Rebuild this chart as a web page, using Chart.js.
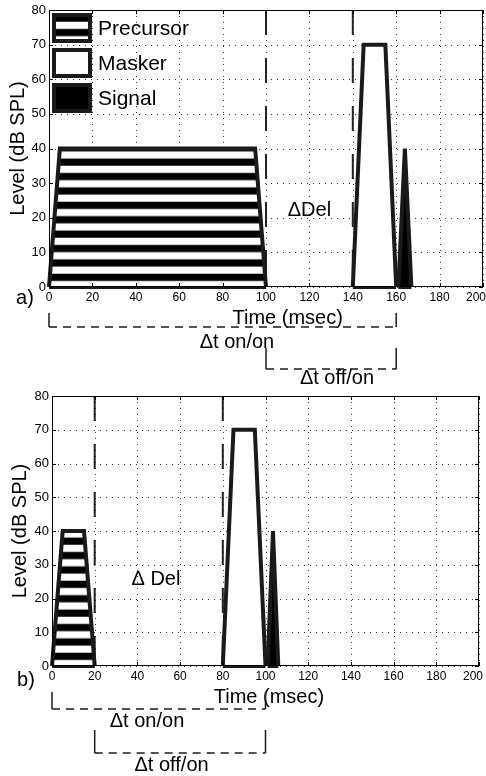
<!DOCTYPE html>
<html>
<head>
<meta charset="utf-8">
<script src="https://cdn.jsdelivr.net/npm/chart.js@4.4.0/dist/chart.umd.min.js"></script>
<style>
    body { margin: 0; background: #fff; }
    canvas { position: absolute; left: 0; }
    #chartA { top: 0; }
    #chartB { top: 390px; }
</style>
</head>
<body>
<canvas id="chartA" width="486" height="390"></canvas>
<canvas id="chartB" width="486" height="386"></canvas>
<script>
// axis ticks
const xTicks = [0, 20, 40, 60, 80, 100, 120, 140, 160, 180, 200];
const yTicks = [0, 10, 20, 30, 40, 50, 60, 70, 80];
const seriesNames = ['Precursor', 'Masker', 'Signal'];
const xTitle = 'Time (msec)';
const yTitle = 'Level (dB SPL)';
const bracketNames = ['\u0394t on/on', '\u0394t off/on'];

// panel a) time in ms, level in dB SPL
const precursorA_t = [0, 5, 95, 100];
const precursorA_db = [0, 40, 40, 0];
const maskerA_t = [140, 145, 155, 160];
const maskerA_db = [0, 70, 70, 0];
const signalA_t = [161, 164, 167];
const signalA_db = [0, 40, 0];
const markersA = [100, 140];
const bracketsA = [[0, 160], [100, 160]];

// panel b)
const precursorB_t = [0, 5, 15, 20];
const precursorB_db = [0, 40, 40, 0];
const maskerB_t = [80, 85, 95, 100];
const maskerB_db = [0, 70, 70, 0];
const signalB_t = [101, 103.5, 106];
const signalB_db = [0, 40, 0];
const markersB = [20, 80];
const bracketsB = [[0, 100], [20, 100]];

const INK = '#1a1a1a';
const FONT = '"Liberation Sans", Arial, Helvetica, sans-serif';
const XTICK_SIZE = 12;

const patterns = new Map();
function stripes(chart) {
    const a = chart.chartArea;
    if (!a) return '#fff';
    if (patterns.has(chart.id)) return patterns.get(chart.id);
    const tile = document.createElement('canvas');
    tile.width = 8;
    tile.height = 144;
    const t = tile.getContext('2d');
    t.fillStyle = '#fff';
    t.fillRect(0, 0, 8, 144);
    t.fillStyle = '#000';
    for (let k = 0; k < 10; k++) t.fillRect(0, k * 14.4, 8, 7.2);
    const p = chart.ctx.createPattern(tile, 'repeat');
    p.setTransform(new DOMMatrix([1, 0, 0, 1, 0, a.bottom - 13.3]));
    patterns.set(chart.id, p);
    return p;
}

function toPoints(t, db) {
    return t.map((v, i) => ({x: v, y: db[i]}));
}

function shape(t, db, fill) {
    return {
        data: toPoints(t, db),
        fill: 'origin',
        backgroundColor: fill,
        borderColor: INK,
        borderWidth: 4,
        borderJoinStyle: 'miter',
        pointRadius: 0,
        tension: 0,
        clip: false
    };
}

function baseline(t) {
    return {
        data: [{x: t[0], y: 0}, {x: t[t.length - 1], y: 0}],
        fill: false,
        borderColor: INK,
        borderWidth: 4,
        pointRadius: 0,
        clip: false
    };
}

function marker(v) {
    return {
        data: [{x: v, y: 80}, {x: v, y: 0}],
        fill: false,
        borderColor: '#222',
        borderWidth: 2,
        borderDash: [25, 23],
        pointRadius: 0,
        clip: false
    };
}

const decor = {
    id: 'decor',
    beforeDatasetsDraw(chart) {
        // dotted grid
        const {ctx, chartArea: a, scales: {x, y}} = chart;
        ctx.save();
        ctx.strokeStyle = '#333';
        ctx.lineWidth = 1;
        ctx.setLineDash([1, 5]);
        ctx.beginPath();
        xTicks.forEach(v => {
            const px = Math.round(x.getPixelForValue(v)) + 0.5;
            ctx.moveTo(px, a.top); ctx.lineTo(px, a.bottom);
        });
        yTicks.forEach(v => {
            const py = Math.round(y.getPixelForValue(v)) + 0.5;
            ctx.moveTo(a.left, py); ctx.lineTo(a.right, py);
        });
        ctx.stroke();
        ctx.restore();
    },
    afterDatasetsDraw(chart, args, opts) {
        const {ctx, chartArea: a, scales: {x, y}} = chart;
        ctx.save();

        // frame and inward ticks
        ctx.strokeStyle = '#000';
        ctx.lineWidth = 1;
        ctx.strokeRect(a.left + 0.5, a.top + 0.5, a.right - a.left - 1, a.bottom - a.top - 1);
        ctx.beginPath();
        xTicks.forEach(v => {
            const px = Math.round(x.getPixelForValue(v)) + 0.5;
            ctx.moveTo(px, a.bottom); ctx.lineTo(px, a.bottom - 4);
            ctx.moveTo(px, a.top); ctx.lineTo(px, a.top + 4);
        });
        yTicks.forEach(v => {
            const py = Math.round(y.getPixelForValue(v)) + 0.5;
            ctx.moveTo(a.left, py); ctx.lineTo(a.left + 4, py);
            ctx.moveTo(a.right, py); ctx.lineTo(a.right - 4, py);
        });
        ctx.stroke();

        ctx.fillStyle = '#000';
        ctx.textBaseline = 'middle';

        // last x tick label sits at the right edge, it would be cut otherwise
        const last = xTicks[xTicks.length - 1];
        ctx.font = XTICK_SIZE + 'px ' + FONT;
        ctx.textAlign = 'right';
        ctx.fillText(String(last), Math.min(x.getPixelForValue(last) + opts.lastTickShift, chart.width), a.bottom + 11);
        ctx.textAlign = 'center';

        // legend
        if (opts.legend) {
            const fills = [stripes(chart), '#fff', '#000'];
            const tops = [3, 38, 73];
            seriesNames.forEach((name, i) => {
                const top = a.top + tops[i];
                ctx.fillStyle = fills[i];
                ctx.fillRect(a.left + 5, top + 2, 36, 26);
                ctx.strokeStyle = INK;
                ctx.lineWidth = 4;
                ctx.strokeRect(a.left + 5, top + 2, 36, 26);
                ctx.fillStyle = '#000';
                ctx.font = '21px ' + FONT;
                ctx.textAlign = 'left';
                ctx.fillText(name, a.left + 49, top + 16);
            });
            ctx.textAlign = 'center';
        }

        ctx.font = '20px ' + FONT;
        ctx.fillText(opts.del, x.getPixelForValue(opts.delAt[0]), y.getPixelForValue(opts.delAt[1]));
        ctx.fillText(xTitle, x.getPixelForValue(opts.titleAt), a.bottom + 31);
        ctx.fillText(opts.panel, opts.panelX, a.bottom + opts.panelDy);

        // brackets below the axis
        opts.brackets.forEach((b, i) => {
            const x0 = x.getPixelForValue(b[0]);
            const x1 = x.getPixelForValue(b[1]);
            const [yTop, yBot] = opts.bracketY[i];
            ctx.strokeStyle = INK;
            ctx.lineWidth = 1.5;
            ctx.setLineDash([]);
            ctx.beginPath();
            ctx.moveTo(x0, a.bottom + yTop); ctx.lineTo(x0, a.bottom + yBot);
            ctx.moveTo(x1, a.bottom + yTop); ctx.lineTo(x1, a.bottom + yBot);
            ctx.stroke();
            ctx.setLineDash([8, 6]);
            ctx.beginPath();
            ctx.moveTo(x0, a.bottom + yBot); ctx.lineTo(x1, a.bottom + yBot);
            ctx.stroke();
            ctx.setLineDash([]);
            ctx.font = '20px ' + FONT;
            ctx.fillText(bracketNames[i], x.getPixelForValue(opts.labelAt[i]), a.bottom + opts.labelY[i]);
        });
        ctx.restore();
    }
};

function makeChart(id, cfg) {
    return new Chart(document.getElementById(id), {
        type: 'line',
        data: {datasets: cfg.datasets},
        options: {
            responsive: false,
            animation: false,
            devicePixelRatio: 1,
            layout: {padding: cfg.padding},
            plugins: {
                legend: {display: false},
                tooltip: {enabled: false},
                decor: cfg.decor
            },
            scales: {
                x: {
                    type: 'linear',
                    min: 0,
                    max: 200,
                    afterBuildTicks: s => { s.ticks = xTicks.map(v => ({value: v})); },
                    afterFit: s => { s.height = cfg.xHeight; s.paddingLeft = 0; s.paddingRight = 0; },
                    ticks: {
                        color: '#000',
                        padding: 3,
                        maxRotation: 0,
                        autoSkip: false,
                        font: {family: FONT, size: XTICK_SIZE},
                        callback: (v, i) => i === xTicks.length - 1 ? '' : String(v)
                    },
                    grid: {display: false, drawTicks: false},
                    border: {display: false}
                },
                y: {
                    type: 'linear',
                    min: 0,
                    max: 80,
                    afterBuildTicks: s => { s.ticks = yTicks.map(v => ({value: v})); },
                    afterFit: s => { s.width = cfg.yWidth; s.paddingTop = 0; s.paddingBottom = 0; },
                    ticks: {color: '#000', padding: 3, autoSkip: false, font: {family: FONT, size: 13}},
                    grid: {display: false, drawTicks: false},
                    border: {display: false},
                    title: {display: true, text: yTitle, color: '#000', padding: {top: cfg.yTitlePad, bottom: 0}, font: {family: FONT, size: 20}}
                }
            }
        },
        plugins: [decor]
    });
}

makeChart('chartA', {
    padding: {left: 0, top: 10, right: 3, bottom: 0},
    xHeight: 103,
    yWidth: 49,
    yTitlePad: 6,
    datasets: [
        shape(signalA_t, signalA_db, '#000'),
        shape(maskerA_t, maskerA_db, '#fff'),
        shape(precursorA_t, precursorA_db, ctx => stripes(ctx.chart)),
        baseline(signalA_t),
        baseline(maskerA_t),
        baseline(precursorA_t),
        ...markersA.map(marker)
    ],
    decor: {
        legend: true,
        lastTickShift: 3,
        del: '\u0394Del',
        delAt: [120, 22],
        titleAt: 110,
        panel: 'a)',
        panelX: 25,
        panelDy: 11,
        brackets: bracketsA,
        bracketY: [[26, 40], [61, 82]],
        labelAt: [86.6, 132.7],
        labelY: [55, 91]
    }
});

makeChart('chartB', {
    padding: {left: 0, top: 6, right: 7, bottom: 0},
    xHeight: 110,
    yWidth: 52,
    yTitlePad: 8,
    datasets: [
        shape(signalB_t, signalB_db, '#000'),
        shape(maskerB_t, maskerB_db, '#fff'),
        shape(precursorB_t, precursorB_db, ctx => stripes(ctx.chart)),
        baseline(signalB_t),
        baseline(maskerB_t),
        baseline(precursorB_t),
        ...markersB.map(marker)
    ],
    decor: {
        legend: false,
        lastTickShift: 4,
        del: '\u0394 Del',
        delAt: [48.7, 25.5],
        titleAt: 101.6,
        panel: 'b)',
        panelX: 26,
        panelDy: 14,
        brackets: bracketsB,
        bracketY: [[26, 43], [64, 87]],
        labelAt: [44.5, 56],
        labelY: [55, 99]
    }
});
</script>
</body>
</html>
